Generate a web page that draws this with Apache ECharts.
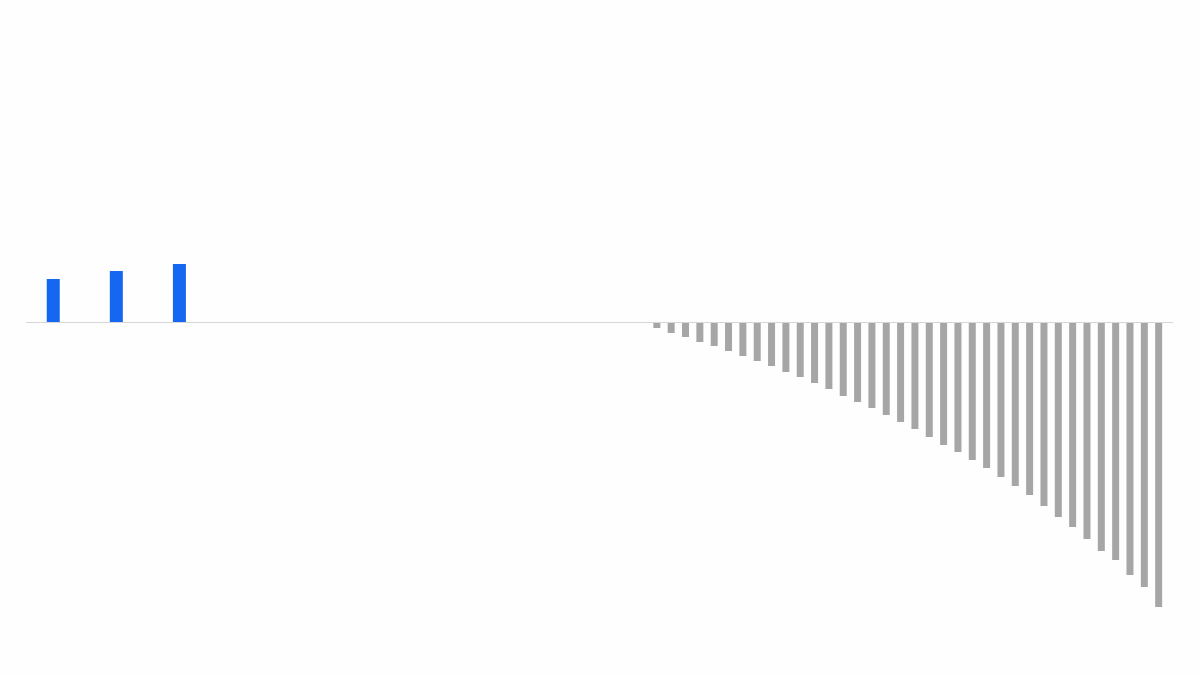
<!DOCTYPE html>
<html>
<head>
    <meta http-equiv="Content-Type" content="text/html; charset=utf-8"/>
    <script src="https://cdn.jsdelivr.net/npm/echarts@6/dist/echarts.min.js"></script>
    <style>
        html, body { margin: 0; padding: 0; background: #fefefe; }
        #main { width: 1200px; height: 675px; }
    </style>
</head>
<body>
<div id="main"></div>
<script type="text/javascript">
    // positions on the x scale
    var posX = [1.9, 6.3, 10.7];
    var negX = [44, 45, 46, 47, 48, 49, 50, 51, 52, 53, 54, 55, 56, 57, 58, 59, 60, 61,
        62, 63, 64, 65, 66, 67, 68, 69, 70, 71, 72, 73, 74, 75, 76, 77, 78, 79];

    // bar values
    var posValues = [4.3, 5.1, 5.8];
    var negValues = [-0.6, -1.1, -1.5, -2.0, -2.4, -2.9, -3.4, -3.9, -4.4, -5.0,
        -5.5, -6.1, -6.7, -7.4, -8.0, -8.6, -9.3, -10.0, -10.7, -11.5,
        -12.3, -13.0, -13.8, -14.6, -15.5, -16.4, -17.3, -18.4, -19.5, -20.5,
        -21.7, -22.9, -23.8, -25.3, -26.5, -28.5];

    var posData = posX.map(function (x, i) { return [x, posValues[i]]; });
    var negData = negX.map(function (x, i) { return [x, negValues[i]]; });

    var chart = echarts.init(document.getElementById('main'));
    // two identical hidden x axes, so each bar series is centred on its own value
    var xAxisCfg = {type: 'value', min: 0, max: 80, show: false};
    var option = {
        backgroundColor: '#fefefe',
        animation: false,
        grid: {left: 26, right: 27, top: 0, bottom: 0},
        xAxis: [xAxisCfg, echarts.util.clone(xAxisCfg)],
        yAxis: {
            type: 'value',
            min: -35.3,
            max: 32.2,
            axisLine: {show: false},
            axisTick: {show: false},
            axisLabel: {show: false},
            splitLine: {show: false}
        },
        series: [
            {
                type: 'bar',
                xAxisIndex: 0,
                data: posData,
                barWidth: 13,
                itemStyle: {color: '#1566f0'},
                markLine: {
                    silent: true,
                    symbol: 'none',
                    label: {show: false},
                    lineStyle: {color: '#d6d6d6', width: 1, type: 'solid'},
                    data: [{yAxis: 0}]
                }
            },
            {
                type: 'bar',
                xAxisIndex: 1,
                data: negData,
                barWidth: 7,
                itemStyle: {color: '#a6a6a6'}
            }
        ]
    };
    chart.setOption(option);
</script>
</body>
</html>
